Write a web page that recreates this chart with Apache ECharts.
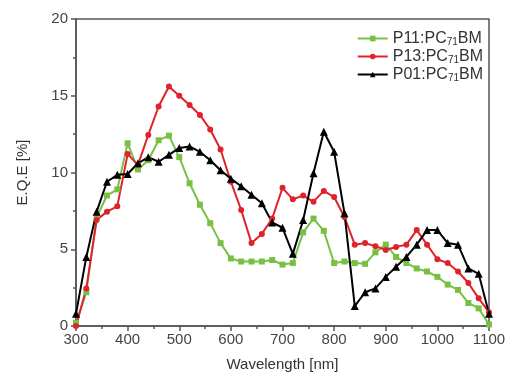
<!DOCTYPE html>
<html>
<head>
<meta charset="utf-8">
<script src="https://cdn.jsdelivr.net/npm/echarts@6/dist/echarts.min.js"></script>
<style>html,body{margin:0;padding:0;background:#fff}#c{width:510px;height:381px}</style>
</head>
<body>
<div id="c"></div>
<script>
const wavelengths = [300,320,340,360,380,400,420,440,460,480,500,520,540,560,580,600,620,640,660,680,700,720,740,760,780,800,820,840,860,880,900,920,940,960,980,1000,1020,1040,1060,1080,1100];
const p11 = [0.2,2.2,7.1,8.5,8.9,11.9,10.2,10.8,12.1,12.4,11.0,9.3,7.9,6.7,5.4,4.4,4.2,4.2,4.2,4.3,4.0,4.1,6.1,7.0,6.2,4.1,4.2,4.1,4.05,4.8,5.3,4.5,4.1,3.75,3.55,3.2,2.7,2.35,1.5,1.15,0.1];
const p13 = [0,2.45,6.9,7.45,7.8,11.2,10.5,12.45,14.3,15.6,15.0,14.4,13.75,12.8,11.5,9.4,7.55,5.4,6.0,7.0,9.0,8.25,8.5,8.1,8.8,8.4,7.1,5.3,5.4,5.2,4.95,5.15,5.3,6.25,5.3,4.35,4.1,3.55,2.8,1.8,0.9];
const p01 = [0.8,4.5,7.45,9.4,9.85,9.9,10.6,11.0,10.7,11.15,11.6,11.7,11.35,10.8,10.15,9.6,9.1,8.55,8.0,6.75,6.4,4.7,6.9,9.95,12.65,11.35,7.35,1.3,2.2,2.45,3.2,3.86,4.5,5.3,6.25,6.25,5.4,5.3,3.75,3.4,0.8];
const seriesNames = ['P11:PC71BM','P13:PC71BM','P01:PC71BM'];
const xTicks = [300,400,500,600,700,800,900,1000,1100];
const yTicks = [0,5,10,15,20];

const pair = arr => wavelengths.map((w,i)=>[w,arr[i]]);
const chart = echarts.init(document.getElementById('c'));
const axisColor = '#555';
const font = 'Liberation Sans, Arial, sans-serif';
function mk(name, data, color, symbol, size){
  return {name, type:'line', data: pair(data), symbol, symbolSize:size,
    lineStyle:{color, width:2}, itemStyle:{color}, animation:false, z: 3};
}
chart.setOption({
  animation:false,
  grid:{left:76,right:21,top:19,bottom:55,show:true,borderColor:axisColor,borderWidth:1.5,backgroundColor:'transparent'},
  legend:{
    right:22, top:25, orient:'vertical', itemGap:1, itemWidth:30, itemHeight:7,
    formatter: n => n.replace('PC71BM','PC{sub|71}BM'),
    textStyle:{fontFamily:font,fontSize:16,color:'#333',lineHeight:17,
      rich:{sub:{fontSize:10,fontFamily:font,color:'#333',verticalAlign:'bottom',lineHeight:17,padding:[7,0,0,0]}}}
  },
  xAxis:{type:'value',min:300,max:1100,interval:100,
    name:'Wavelength [nm]',nameLocation:'middle',nameGap:31,
    nameTextStyle:{fontFamily:font,fontSize:15,color:'#333'},
    axisLine:{lineStyle:{color:axisColor,width:1.5}},
    axisTick:{show:true,length:5,lineStyle:{color:axisColor,width:1.5},customValues:xTicks},
    minorTick:{show:true,splitNumber:2,length:3,lineStyle:{color:axisColor,width:1.5}},
    splitLine:{show:false},
    axisLabel:{fontFamily:font,fontSize:15,color:'#444',margin:6,customValues:xTicks,formatter:v=>String(v)}
  },
  yAxis:{type:'value',min:0,max:20,interval:5,
    name:'E.Q.E [%]',nameLocation:'middle',nameGap:46,
    nameTextStyle:{fontFamily:font,fontSize:15,color:'#333'},
    axisLine:{show:true,lineStyle:{color:axisColor,width:1.5}},
    axisTick:{show:true,length:5,lineStyle:{color:axisColor,width:1.5},customValues:yTicks},
    minorTick:{show:true,splitNumber:2,length:3,lineStyle:{color:axisColor,width:1.5}},
    splitLine:{show:false},
    axisLabel:{fontFamily:font,fontSize:15,color:'#444',margin:8,customValues:yTicks,formatter:v=>String(v)}
  },
  series:[
    mk(seriesNames[0], p11, '#78c043', 'rect', 6),
    mk(seriesNames[1], p13, '#e0222b', 'circle', 6),
    mk(seriesNames[2], p01, '#000000', 'triangle', 8)
  ]
});
</script>
</body>
</html>
